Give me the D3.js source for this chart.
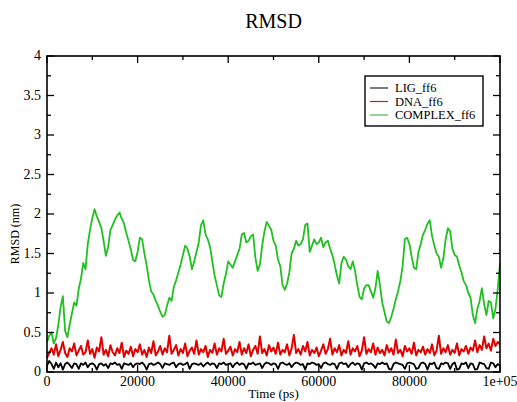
<!DOCTYPE html>
<html lang="en">
  <head>
    <meta charset="UTF-8" />
    <title>RMSD</title>
    <script src="https://d3js.org/d3.v7.min.js"></script>
    <style>
      body { margin: 0; background: #fff; }
      text { font-family: 'Liberation Serif', 'Times New Roman', serif; fill: #000; }
    </style>
  </head>
  <body>
    <svg id="chart" width="517" height="402"></svg>
    <script>
      // Sampling step of the trajectory (ps)
      const stepPs = 500

      // COMPLEX_ff6 rmsd (nm), one value every 500 ps
      const complexRmsd = [
        0.38, 0.46, 0.50, 0.36, 0.43, 0.60, 0.82, 0.96, 0.52, 0.44,
        0.60, 0.74, 0.88, 0.84, 1.05, 1.18, 1.38, 1.30, 1.62, 1.80,
        1.95, 2.06, 1.97, 1.90, 1.82, 1.66, 1.47, 1.58, 1.80, 1.86,
        1.93, 1.98, 2.02, 1.94, 1.88, 1.76, 1.66, 1.55, 1.42, 1.40,
        1.52, 1.70, 1.68, 1.50, 1.35, 1.16, 1.02, 0.98, 0.90, 0.84,
        0.76, 0.70, 0.72, 0.84, 0.94, 0.90, 1.08, 1.16, 1.26, 1.36,
        1.48, 1.60, 1.56, 1.46, 1.30, 1.40, 1.52, 1.64, 1.86, 1.92,
        1.74, 1.68, 1.58, 1.40, 1.22, 1.10, 0.97, 0.95, 1.12, 1.24,
        1.40, 1.36, 1.32, 1.40, 1.48, 1.56, 1.74, 1.76, 1.64, 1.66,
        1.72, 1.74, 1.45, 1.28, 1.36, 1.60, 1.78, 1.90, 1.85, 1.80,
        1.66, 1.60, 1.42, 1.34, 1.10, 1.04, 1.12, 1.26, 1.50, 1.56,
        1.66, 1.60, 1.62, 1.68, 1.86, 1.88, 1.52, 1.60, 1.68, 1.62,
        1.64, 1.70, 1.58, 1.64, 1.66, 1.56, 1.48, 1.36, 1.22, 1.12,
        1.38, 1.46, 1.42, 1.34, 1.30, 1.40, 1.28, 1.10, 0.95, 0.92,
        1.06, 1.10, 1.10, 1.02, 0.94, 1.06, 1.28, 1.10, 0.88, 0.76,
        0.64, 0.62, 0.70, 0.80, 0.92, 1.02, 1.15, 1.34, 1.68, 1.70,
        1.62, 1.46, 1.32, 1.30, 1.52, 1.62, 1.74, 1.80, 1.88, 1.92,
        1.72, 1.60, 1.50, 1.46, 1.32, 1.44, 1.68, 1.82, 1.78, 1.56,
        1.48, 1.46, 1.35, 1.26, 1.15, 1.10, 1.00, 0.94, 0.72, 0.62,
        0.80, 0.90, 1.06, 0.86, 0.72, 0.90, 0.88, 0.68, 0.80, 1.05,
        1.38
      ]

      // DNA_ff6 rmsd (nm)
      const dnaRmsd = [
        0.18, 0.24, 0.30, 0.22, 0.35, 0.20, 0.28, 0.38, 0.24, 0.19,
        0.30, 0.26, 0.36, 0.21, 0.27, 0.33, 0.22, 0.25, 0.40, 0.23,
        0.29, 0.18, 0.31, 0.26, 0.44, 0.22, 0.28, 0.20, 0.34, 0.25,
        0.21, 0.30, 0.24, 0.37, 0.19, 0.27, 0.23, 0.32, 0.20, 0.29,
        0.25, 0.35, 0.22, 0.28, 0.19, 0.31, 0.24, 0.39, 0.21, 0.26,
        0.33, 0.22, 0.30, 0.25, 0.46, 0.23, 0.28, 0.34, 0.21, 0.29,
        0.24, 0.36, 0.20, 0.27, 0.31, 0.23, 0.40, 0.22, 0.29, 0.25,
        0.33, 0.19, 0.28, 0.24, 0.36, 0.22, 0.30, 0.26, 0.42, 0.23,
        0.27, 0.32, 0.21, 0.29, 0.25, 0.38, 0.22, 0.30, 0.24, 0.35,
        0.20, 0.28, 0.33, 0.23, 0.45, 0.24, 0.29, 0.21, 0.34, 0.26,
        0.31, 0.23, 0.37, 0.22, 0.28, 0.25, 0.35, 0.21, 0.30, 0.47,
        0.24, 0.29, 0.22, 0.33, 0.26, 0.38, 0.21, 0.28, 0.24, 0.31,
        0.20, 0.27, 0.35, 0.23, 0.29, 0.42, 0.22, 0.30, 0.25, 0.34,
        0.21, 0.28, 0.24, 0.39, 0.22, 0.30, 0.26, 0.33, 0.20, 0.27,
        0.44, 0.23, 0.29, 0.25, 0.36, 0.22, 0.31, 0.24, 0.28, 0.21,
        0.34, 0.25, 0.30, 0.22, 0.41, 0.24, 0.28, 0.20, 0.33, 0.26,
        0.30, 0.23, 0.37, 0.21, 0.28, 0.25, 0.32, 0.22, 0.29, 0.24,
        0.35, 0.21, 0.27, 0.46, 0.23, 0.30, 0.25, 0.34, 0.22, 0.28,
        0.24, 0.36, 0.21, 0.29, 0.26, 0.33, 0.23, 0.31, 0.27, 0.40,
        0.25, 0.34, 0.28, 0.45, 0.30, 0.36, 0.27, 0.42, 0.33, 0.38,
        0.35
      ]

      // LIG_ff6 rmsd (nm)
      const ligRmsd = [
        0.08, 0.14, 0.10, 0.04, 0.12, 0.06, 0.11, 0.03, 0.10, 0.12,
        0.09, 0.05, 0.11, 0.10, 0.04, 0.11, 0.09, 0.12, 0.06, 0.10,
        0.11, 0.09, 0.03, 0.10, 0.11, 0.08, 0.10, 0.05, 0.11, 0.10,
        0.12, 0.09, 0.10, 0.04, 0.11, 0.10, 0.09, 0.11, 0.06, 0.10,
        0.11, 0.10, 0.12, 0.09, 0.03, 0.10, 0.11, 0.09, 0.10, 0.12,
        0.10, 0.05, 0.11, 0.10, 0.09, 0.11, 0.12, 0.06, 0.10, 0.11,
        0.09, 0.10, 0.12, 0.04, 0.10, 0.11, 0.10, 0.09, 0.11, 0.07,
        0.10, 0.12, 0.09, 0.11, 0.10, 0.05, 0.11, 0.10, 0.12, 0.09,
        0.10, 0.11, 0.06, 0.10, 0.12, 0.09, 0.11, 0.10, 0.04, 0.11,
        0.10, 0.12, 0.09, 0.10, 0.11, 0.05, 0.10, 0.12, 0.11, 0.09,
        0.11, 0.10, 0.04, 0.11, 0.12, 0.10, 0.09, 0.11, 0.06, 0.10,
        0.12, 0.11, 0.09, 0.10, 0.03, 0.11, 0.10, 0.12, 0.11, 0.09,
        0.10, 0.05, 0.11, 0.12, 0.10, 0.09, 0.11, 0.10, 0.04, 0.11,
        0.12, 0.10, 0.11, 0.06, 0.10, 0.12, 0.09, 0.11, 0.10, 0.03,
        0.11, 0.12, 0.10, 0.11, 0.09, 0.05, 0.11, 0.10, 0.12, 0.10,
        0.11, 0.04, 0.03, 0.10, 0.12, 0.11, 0.10, 0.09, 0.04, 0.11,
        0.12, 0.11, 0.10, 0.04, 0.05, 0.11, 0.12, 0.10, 0.03, 0.11,
        0.10, 0.12, 0.05, 0.04, 0.11, 0.10, 0.12, 0.11, 0.04, 0.10,
        0.12, 0.03, 0.04, 0.11, 0.10, 0.12, 0.05, 0.11, 0.10, 0.03,
        0.04, 0.12, 0.11, 0.10, 0.05, 0.04, 0.12, 0.11, 0.06, 0.10,
        0.08
      ]

      const seriesNames = ['LIG_ff6', 'DNA_ff6', 'COMPLEX_ff6']
      const seriesColors = ['#000000', '#e00000', '#20c020']
      const legendColors = ['#222222', '#a03030', '#50b050']
      const xTickValues = [0, 20000, 40000, 60000, 80000, 100000]
      const xTickLabels = ['0', '20000', '40000', '60000', '80000', '1e+05']
      const yTickValues = [0, 0.5, 1, 1.5, 2, 2.5, 3, 3.5, 4]

      const svg = d3.select('#chart'),
        width = +svg.attr('width'),
        height = +svg.attr('height')
      const margin = { top: 56, right: 17, bottom: 30, left: 47 }
      const innerW = width - margin.left - margin.right
      const innerH = height - margin.top - margin.bottom

      const x = d3.scaleLinear().domain([0, 100000]).range([margin.left, margin.left + innerW])
      const y = d3.scaleLinear().domain([0, 4]).range([margin.top + innerH, margin.top])

      const g = svg.append('g')

      // data lines (drawn first, frame on top)
      const line = d3.line()
        .x((d, i) => x(i * stepPs))
        .y(d => y(d))
      const allSeries = [ligRmsd, dnaRmsd, complexRmsd]
      // complex under dna under lig
      ;[2, 1, 0].forEach(k => {
        g.append('path')
          .datum(allSeries[k])
          .attr('fill', 'none')
          .attr('stroke', seriesColors[k])
          .attr('stroke-width', k === 1 ? 2 : 1.8)
          .attr('stroke-linejoin', 'round')
          .attr('d', line)
      })

      // frame
      g.append('rect')
        .attr('x', margin.left).attr('y', margin.top)
        .attr('width', innerW).attr('height', innerH)
        .attr('fill', 'none').attr('stroke', '#000').attr('stroke-width', 1.6)

      // ticks pointing inward, on all four sides
      const majorLen = 7, minorLen = 4
      const xMinor = d3.range(10000, 100000, 20000)
      const yMinor = d3.range(0.25, 4, 0.5)
      const tickLines = []
      xTickValues.forEach(v => {
        tickLines.push([x(v), y(0), x(v), y(0) - majorLen])
        tickLines.push([x(v), y(4), x(v), y(4) + majorLen])
      })
      xMinor.forEach(v => {
        tickLines.push([x(v), y(0), x(v), y(0) - minorLen])
        tickLines.push([x(v), y(4), x(v), y(4) + minorLen])
      })
      yTickValues.forEach(v => {
        tickLines.push([x(0), y(v), x(0) + majorLen, y(v)])
        tickLines.push([x(100000), y(v), x(100000) - majorLen, y(v)])
      })
      yMinor.forEach(v => {
        tickLines.push([x(0), y(v), x(0) + minorLen, y(v)])
        tickLines.push([x(100000), y(v), x(100000) - minorLen, y(v)])
      })
      g.selectAll('line.tick')
        .data(tickLines)
        .join('line')
        .attr('class', 'tick')
        .attr('x1', d => d[0]).attr('y1', d => d[1])
        .attr('x2', d => d[2]).attr('y2', d => d[3])
        .attr('stroke', '#000').attr('stroke-width', 1.3)

      // tick labels
      g.selectAll('text.xl')
        .data(xTickValues)
        .join('text')
        .attr('class', 'xl')
        .attr('x', d => x(d))
        .attr('y', y(0) + 14)
        .attr('text-anchor', 'middle')
        .attr('font-size', 14)
        .text((d, i) => xTickLabels[i])

      g.selectAll('text.yl')
        .data(yTickValues)
        .join('text')
        .attr('class', 'yl')
        .attr('x', x(0) - 6)
        .attr('y', d => y(d) + 4)
        .attr('text-anchor', 'end')
        .attr('font-size', 14)
        .text(d => d)

      // titles
      svg.append('text')
        .attr('x', margin.left + innerW / 2)
        .attr('y', 28)
        .attr('text-anchor', 'middle')
        .attr('font-size', 20)
        .text('RMSD')

      svg.append('text')
        .attr('x', margin.left + innerW / 2)
        .attr('y', 398)
        .attr('text-anchor', 'middle')
        .attr('font-size', 13)
        .text('Time (ps)')

      svg.append('text')
        .attr('transform', 'translate(19,234) rotate(-90)')
        .attr('text-anchor', 'middle')
        .attr('font-size', 12)
        .text('RMSD (nm)')

      // legend
      const legend = svg.append('g').attr('transform', 'translate(365,76)')
      legend.append('rect')
        .attr('width', 118).attr('height', 50)
        .attr('fill', '#fff').attr('stroke', '#000').attr('stroke-width', 1.4)
      seriesNames.forEach((name, i) => {
        const ly = 12 + i * 13.5
        legend.append('line')
          .attr('x1', 5).attr('x2', 23)
          .attr('y1', ly).attr('y2', ly)
          .attr('stroke', legendColors[i]).attr('stroke-width', 1.2)
        legend.append('text')
          .attr('x', 30).attr('y', ly + 4)
          .attr('font-size', 12.5)
          .text(name)
      })
    </script>
  </body>
</html>
